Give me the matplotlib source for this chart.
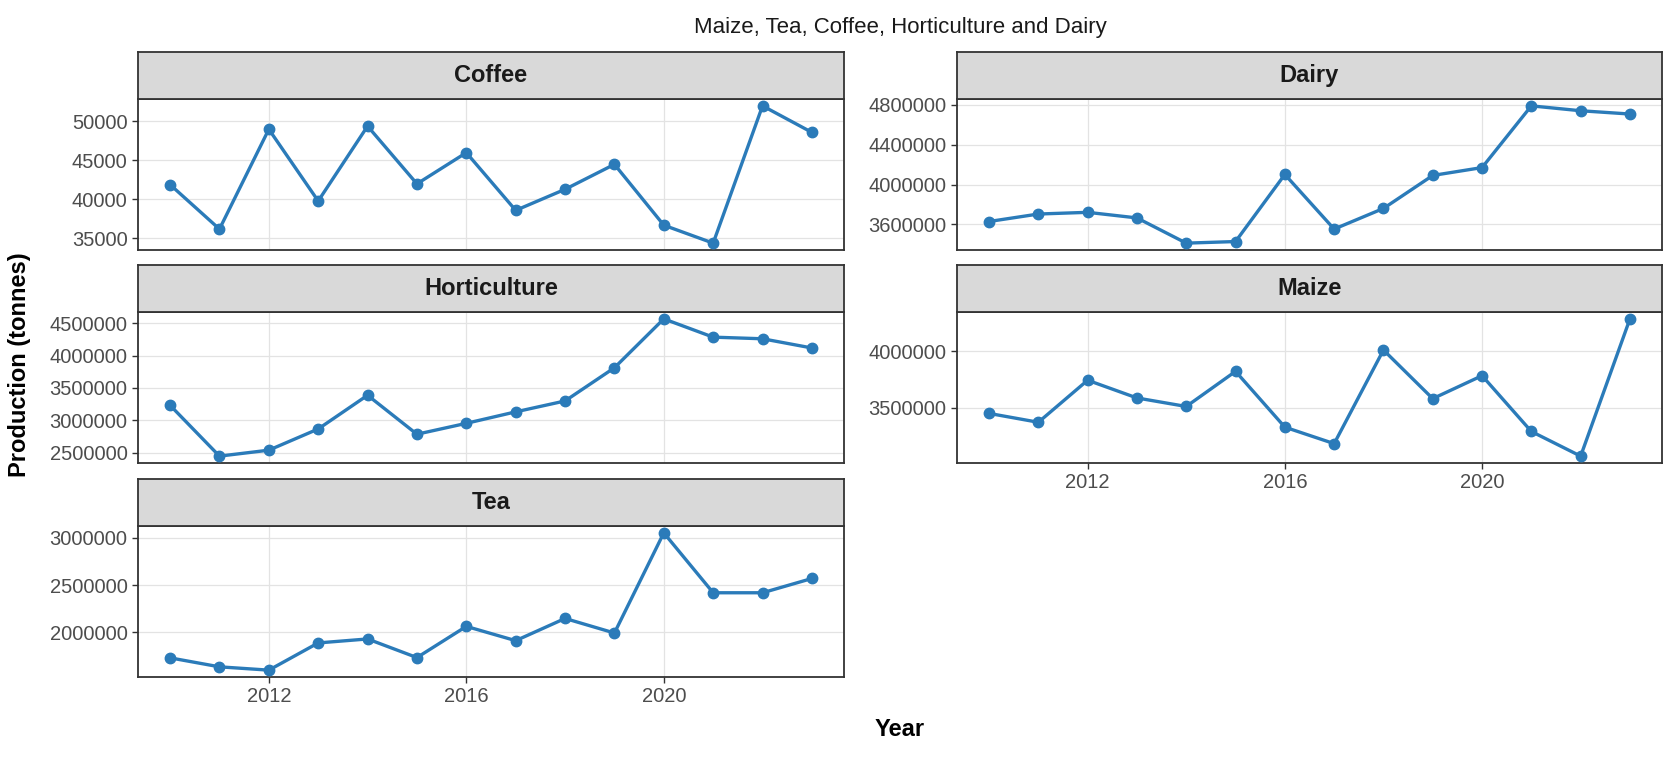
import numpy as np
import matplotlib.pyplot as plt
import matplotlib.ticker as mticker

# ----- data -----
years = list(range(2010, 2024))
coffee = [41900, 36200, 49000, 39800, 49400, 42000, 46000,
          38600, 41300, 44500, 36700, 34400, 52000, 48600]
dairy = [3630000, 3705000, 3722000, 3666000, 3413000, 3429000, 4102000,
         3554000, 3761000, 4092000, 4171000, 4790000, 4741000, 4708000]
horticulture = [3233000, 2449000, 2541000, 2868000, 3388000, 2787000, 2955000,
                3132000, 3300000, 3812000, 4566000, 4284000, 4259000, 4117000]
maize = [3451000, 3373000, 3743000, 3587000, 3512000, 3821000, 3330000,
         3185000, 4009000, 3581000, 3783000, 3292000, 3075000, 4283000]
tea = [1730000, 1635000, 1600000, 1888000, 1930000, 1733000, 2063000,
       1912000, 2147000, 1993000, 3053000, 2419000, 2419000, 2570000]

facets = ["Coffee", "Dairy", "Horticulture", "Maize", "Tea"]
series = [coffee, dairy, horticulture, maize, tea]
y_steps = [5000, 400000, 500000, 500000, 500000]

# ----- styling -----
plt.rcParams.update({
    "font.family": ["Liberation Sans", "DejaVu Sans"],
})
LINE = "#2B7BB9"
BORDER = "#333333"
GRID = "#E3E3E3"
STRIP = "#D9D9D9"
TICKTXT = "#4D4D4D"

W, H = 1665, 761
fig = plt.figure(figsize=(W / 100, H / 100), dpi=100)

# panel geometry in pixels
cols_x = [(138, 844), (957, 1662)]
rows_y = [(52, 99, 250), (265, 312, 463), (479, 526, 677)]  # strip top, panel top, panel bottom


def px_axes(x0, x1, y0, y1):
    return fig.add_axes([x0 / W, 1 - y1 / H, (x1 - x0) / W, (y1 - y0) / H])


for i, (name, vals, step) in enumerate(zip(facets, series, y_steps)):
    r, c = divmod(i, 2)
    x0, x1 = cols_x[c]
    s_top, p_top, p_bot = rows_y[r]

    ax = px_axes(x0, x1, p_top, p_bot)
    ax.plot(years, vals, color=LINE, lw=2.4, marker="o", ms=7.5,
            solid_joinstyle="round", zorder=3)
    ax.margins(x=0.05, y=0.05)
    ax.xaxis.set_major_locator(mticker.MultipleLocator(4))
    ax.yaxis.set_major_locator(mticker.MultipleLocator(step))
    ax.yaxis.set_major_formatter(mticker.FuncFormatter(lambda v, p: f"{v:.0f}"))
    ax.grid(True, color=GRID, lw=0.9)
    ax.set_axisbelow(True)
    for sp in ax.spines.values():
        sp.set_color(BORDER)
        sp.set_linewidth(1.3)
    ax.tick_params(axis="both", colors=BORDER, length=4.5, width=1.0,
                   labelcolor=TICKTXT, labelsize=14.5, pad=3)
    # x labels only on the bottom panel of each column
    bottom_panel = (name == "Tea") or (name == "Maize")
    if not bottom_panel:
        ax.tick_params(axis="x", length=0, labelbottom=False)

    sax = px_axes(x0, x1, s_top, p_top)
    sax.set_facecolor(STRIP)
    sax.set_xticks([])
    sax.set_yticks([])
    for sp in sax.spines.values():
        sp.set_color(BORDER)
        sp.set_linewidth(1.3)
    sax.text(0.5, 0.5, name, transform=sax.transAxes, ha="center", va="center",
             fontsize=17, fontweight="bold", color="#1A1A1A")

fig.text(900 / W, 1 - 27 / H, "Maize, Tea, Coffee, Horticulture and Dairy",
         ha="center", va="center", fontsize=16, color="#1A1A1A")
fig.text(900 / W, 1 - 730 / H, "Year", ha="center", va="center",
         fontsize=17, fontweight="bold")
fig.text(20 / W, 1 - 365 / H, "Production (tonnes)", rotation=90,
         ha="center", va="center", fontsize=17, fontweight="bold")

fig.savefig("out.png", dpi=100)
